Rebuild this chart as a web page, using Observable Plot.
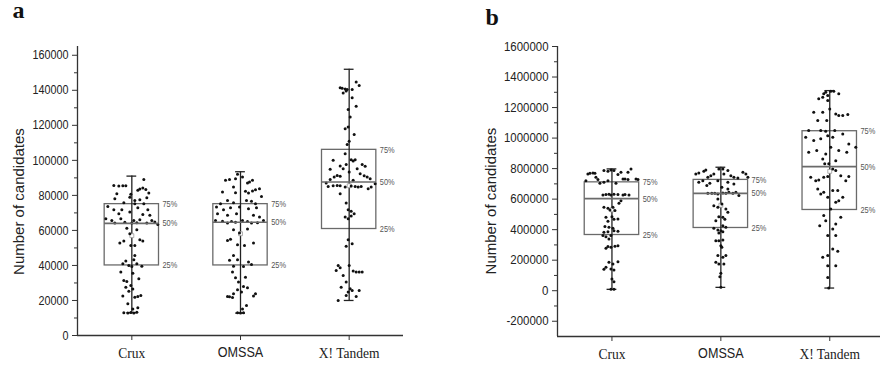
<!DOCTYPE html>
<html><head><meta charset="utf-8">
<script src="https://cdn.jsdelivr.net/npm/d3@7"></script>
<script src="https://cdn.jsdelivr.net/npm/@observablehq/plot@0.6"></script>
<style>
body{margin:0;background:#fff;}
#wrap{position:relative;width:880px;height:368px;overflow:hidden;background:#fff;}
#pa,#pb{position:absolute;top:0;}
#pa{left:0;} #pb{left:440px;}
</style></head><body><div id="wrap"><div id="pa"></div><div id="pb"></div></div>
<script>
const cats = ["Crux", "OMSSA", "X! Tandem"];

// ---- panel a : summary statistics ----
const aTicks = [0,20000,40000,60000,80000,100000,120000,140000,160000];
const aMinor = [10000,30000,50000,70000,90000,110000,130000,150000];
const aQ1 = [40000, 40000, 60800];
const aMedian = [64000, 64700, 87600];
const aQ3 = [75000, 75000, 106000];
const aMin = [13000, 12800, 20000];
const aMax = [91000, 93500, 152000];
const aMean = [57000, 58100, 85500];

// ---- panel a : individual values (y) and horizontal jitter ----
const aCruxY = [85700,85300,85500,85500,89100,82900,83600,84200,83400,81300,
  81000,79000,80600,78100,77100,77500,78700,75800,75200,75200,
  73700,71800,71800,73000,71800,69500,70500,69100,68600,66700,
  65700,66700,65700,66100,65700,64800,64200,64600,64200,64400,
  64200,63400,61300,60400,58100,52800,53900,54700,53900,51400,
  51400,42500,43200,41000,41000,40000,39400,39600,45700,36200,
  35600,32400,31400,30900,28600,27600,26500,25300,22500,21900,
  22300,22900,18100,15800,15200,13000,12800,13100,12800,13300];
const aCruxJ = [-18,-13,-9,-6,12,6,8,11,14,17,
  -15,-2,-1,-17,3,8,15,-8,3,12,
  -24,-18,-10,6,16,-13,-2,11,18,-26,
  -20,-11,2,8,20,23,-17,-7,0,5,
  15,26,-5,5,-2,-12,-8,8,11,-1,
  3,-6,2,5,-9,-3,0,10,3,-11,
  1,7,-8,-5,-1,-6,1,-3,-9,3,
  6,9,-4,6,1,-8,-4,-1,2,5];
const aOmssaY = [88600,89100,89500,92000,90500,87000,87600,88600,84800,81900,
  82300,81300,82500,83200,83800,79400,81500,75200,77100,75800,
  77100,76600,75200,73300,71800,73000,73300,72400,73000,69500,
  68600,69500,68600,67600,65700,65300,65100,65700,65100,65700,
  64200,64600,64200,64400,60400,60800,58500,54300,55000,52800,
  51800,51400,45700,42900,43200,41900,40600,39400,39600,36200,
  33000,33300,30500,28000,27200,26100,24800,23800,23800,22500,
  22300,22100,21700,17100,15200,13000,12800,13000];
const aOmssaJ = [-15,-11,-5,-3,2,7,9,12,-7,-18,
  5,8,12,15,19,21,-5,-20,-13,-7,
  6,11,15,-24,-17,-10,-1,8,16,-23,
  -13,-4,13,19,-25,-18,-9,2,7,23,
  -13,-5,11,17,-7,7,-1,-13,-10,13,
  -3,4,-7,-11,-3,8,11,3,-7,-8,
  -5,5,-2,3,7,-3,1,-7,15,13,
  -13,-11,-8,6,2,-3,0,3];
const aTandemY = [141500,141100,140800,140400,140400,144800,142700,138500,139600,135800,
  130900,129000,124800,118100,119000,114700,110900,109000,103800,100000,
  100400,99600,100400,97700,96800,97700,96600,94900,95200,95200,
  93300,91400,90500,90900,92400,91200,90500,89500,89100,87000,
  88600,86700,85100,85500,85700,85500,84800,85300,85100,84800,
  85100,83800,84800,81000,75600,71800,71000,69500,67600,66700,
  68200,54700,52400,50900,40000,38700,37100,40000,34300,36800,
  36200,36200,36200,30500,27600,26700,25700,25700,24800,22900,
  22300,20000];
const aTandemJ = [-9,-7,-4,-2,3,7,10,-6,-3,3,
  7,-1,1,-4,-1,5,0,-2,-4,-16,
  2,4,6,-3,-9,13,16,-19,-6,8,
  0,-12,-15,-9,11,15,18,21,-19,-23,
  4,26,-21,-16,-12,-9,-4,2,6,9,
  12,19,22,-9,-3,-1,2,5,-4,-1,
  2,-1,3,-3,-11,-9,-13,0,-6,4,
  7,10,13,-3,-8,1,3,10,-1,-3,
  7,-11];

// ---- panel b : summary statistics ----
const bTicks = [-200000,0,200000,400000,600000,800000,1000000,1200000,1400000,1600000];
const bMinor = [-100000,100000,300000,500000,700000,900000,1100000,1300000,1500000];
const bQ1 = [365000, 411000, 529000];
const bMedian = [603000, 638000, 813000];
const bQ3 = [710000, 726000, 1045000];
const bMin = [9000, 22000, 17500];
const bMax = [798000, 809000, 1311000];
const bMean = [530000, 560000, 782000];

// ---- panel b : individual values (y) and horizontal jitter ----
const bCruxY = [765000,769000,772000,769000,721000,743000,728000,704000,787000,783000,
  791000,787000,761000,776000,798000,776000,732000,732000,728000,732000,
  728000,721000,704000,710000,627000,630000,632000,627000,632000,630000,
  627000,630000,627000,590000,573000,546000,540000,529000,546000,525000,
  481000,485000,468000,470000,455000,420000,415000,409000,383000,387000,
  393000,389000,361000,354000,361000,339000,289000,284000,291000,295000,
  278000,186000,175000,190000,153000,140000,142000,136000,77000,59000,
  9000,9000];
const bCruxJ = [-24,-22,-19,-17,-26,-16,-14,-12,-8,-4,
  -1,2,6,9,19,16,11,13,16,24,
  26,-4,4,-8,-9,-6,-3,-1,2,6,
  11,13,17,9,7,-8,-4,-2,1,3,
  -6,0,2,6,-4,-7,-3,1,-8,-4,
  2,6,-9,-6,-1,-3,-4,-1,3,6,
  -6,-3,1,6,-6,-8,-1,2,0,2,
  -1,2];
const bOmssaY = [765000,772000,783000,791000,743000,754000,765000,798000,798000,787000,
  765000,754000,743000,739000,776000,765000,743000,710000,721000,689000,
  704000,721000,710000,699000,638000,638000,638000,634000,640000,638000,
  645000,638000,645000,623000,678000,667000,601000,568000,557000,546000,
  536000,514000,485000,481000,468000,459000,426000,415000,409000,398000,
  393000,378000,387000,328000,328000,332000,295000,284000,230000,219000,
  230000,186000,175000,175000,114000,92000,22000];
const bOmssaJ = [-25,-22,-17,-15,-13,-10,-7,-2,2,7,
  3,10,13,17,22,25,27,-22,-18,-14,
  -11,-3,7,13,-13,-9,-6,-3,2,5,
  8,12,15,18,1,7,-3,1,-7,-3,
  5,7,-2,2,4,-5,2,5,-7,-3,
  0,-2,2,-5,-2,2,0,1,-3,2,
  5,-5,-2,3,0,-1,0];
const bTandemY = [1290000,1301000,1307000,1307000,1290000,1257000,1268000,1279000,1246000,1191000,
  1169000,1169000,1158000,1148000,1148000,1154000,1115000,1115000,1049000,1049000,
  1045000,1049000,1005000,984000,995000,1016000,1005000,1027000,962000,940000,
  907000,918000,896000,940000,918000,907000,863000,852000,831000,831000,
  798000,787000,743000,721000,726000,743000,748000,754000,721000,748000,
  634000,645000,656000,656000,612000,579000,590000,612000,667000,536000,
  492000,481000,459000,426000,404000,437000,361000,361000,273000,258000,
  219000,230000,164000,164000,87000,17000];
const bTandemJ = [-6,-4,1,4,9,-11,-7,-2,-2,0,
  -16,-7,6,9,13,18,-12,-3,-21,-9,
  -4,5,-24,-16,-9,-2,3,13,19,26,
  -21,-13,-4,1,9,17,-7,6,-5,-1,
  3,6,-19,-14,-11,-6,-2,11,16,19,
  -9,-6,3,8,-2,6,9,13,-12,1,
  -6,11,-4,-10,3,6,-2,6,3,8,
  -7,-2,-2,6,-2,-1];

const YLABEL = "Number of candidates";
const JIT = 1 / 108.7; // jitter units -> fraction of category spacing
const BOX = 0.25, CAP = 0.045;

function panel(o) {
  const boxes = cats.map((name, i) => ({i, name, q1: o.q1[i], med: o.med[i], q3: o.q3[i], lo: o.lo[i], hi: o.hi[i], mean: o.mean[i]}));
  const pts = o.groups.flatMap((g, i) => g.y.map((v, k) => ({x: i + g.j[k] * JIT, y: v})));
  const pct = boxes.flatMap(b => [{i: b.i, y: b.q3, t: "75%"}, {i: b.i, y: b.med, t: "50%"}, {i: b.i, y: b.q1, t: "25%"}]);
  const serifLab = boxes.filter(b => b.name !== "OMSSA");
  const sansLab = boxes.filter(b => b.name === "OMSSA");
  return Plot.plot({
    width: 440, height: 368,
    marginLeft: o.ml, marginRight: o.mr, marginTop: 46, marginBottom: o.mb,
    x: {domain: [-0.5, o.xMax], axis: null, label: null},
    y: {domain: o.domain, axis: null, label: null},
    style: {background: "transparent", fontFamily: "'Liberation Sans', Arial, sans-serif", color: "#222"},
    marks: [
      Plot.rect(boxes, {x1: d => d.i - BOX, x2: d => d.i + BOX, y1: "q1", y2: "q3", fill: "none", stroke: "#6a6a6a", strokeWidth: 1.3}),
      Plot.ruleX(boxes, {x: "i", y1: "lo", y2: "hi", stroke: "#222", strokeWidth: 1.3}),
      Plot.ruleY(boxes, {y: "hi", x1: d => d.i - CAP, x2: d => d.i + CAP, stroke: "#222", strokeWidth: 1.3}),
      Plot.ruleY(boxes, {y: "lo", x1: d => d.i - CAP, x2: d => d.i + CAP, stroke: "#222", strokeWidth: 1.3}),
      Plot.dot(boxes, {x: "i", y: "mean", symbol: "square", r: 2.2, stroke: "#999", fill: "white", strokeWidth: 0.8}),
      Plot.dot(pts, {x: "x", y: "y", r: 1.5, fill: "#111", stroke: "none"}),
      Plot.ruleY(boxes, {y: "med", x1: d => d.i - BOX, x2: d => d.i + BOX, stroke: "#6a6a6a", strokeWidth: 1.6}),
      Plot.text(pct, {x: d => d.i + BOX, y: "y", text: "t", dx: 3.5, textAnchor: "start", fontSize: 9, fill: "#555"}),
      Plot.ruleX([-0.5], {stroke: "#333", strokeWidth: 1.3}),
      Plot.ruleY([o.domain[0]], {stroke: "#333", strokeWidth: 1.3}),
      Plot.axisY(o.ticks, {anchor: "left", tickSize: 5, tickPadding: 4, tickFormat: d => String(d), fontSize: 13, label: null, stroke: "#333"}),
      Plot.axisY(o.minor, {anchor: "left", tickSize: 3, tickFormat: () => "", label: null, stroke: "#333"}),
      Plot.axisX([0, 1, 2], {anchor: "bottom", tickSize: 5, tickFormat: () => "", label: null, stroke: "#333"}),
      Plot.text(serifLab, {x: "i", frameAnchor: "bottom", text: "name", dy: 12, lineAnchor: "top", fontSize: 15, fontFamily: "'Liberation Serif', 'Times New Roman', serif", fill: "#222"}),
      Plot.text(sansLab, {x: "i", frameAnchor: "bottom", text: "name", dy: 12, lineAnchor: "top", fontSize: 14, fontFamily: "'Liberation Sans', Arial, sans-serif", fill: "#222"}),
      Plot.text([YLABEL], {frameAnchor: "left", rotate: -90, fontSize: 15, fill: "#222"}),
      Plot.text([o.letter], {frameAnchor: "top-left", dx: o.letDx, dy: o.letDy, textAnchor: "start", lineAnchor: "bottom", fontSize: 24, fontWeight: "bold", fontFamily: "'Liberation Serif', 'Times New Roman', serif", fill: "#111"})
    ]
  });
}

function squeeze(svg, ratioNum) {
  svg.querySelectorAll("text").forEach(t => {
    const s = t.textContent;
    let r = null;
    if (/^-?\d+$/.test(s)) r = ratioNum;
    else if (/%$/.test(s)) r = 0.82;
    else if (cats.includes(s)) r = 0.9;
    if (r) {
      const w = t.getComputedTextLength();
      if (w > 0) { t.setAttribute("textLength", (w * r).toFixed(1)); t.setAttribute("lengthAdjust", "spacingAndGlyphs"); }
    }
  });
}

// centre the rotated axis title at a given point of the panel
function placeTitle(svg, cx, cy) {
  const t = [...svg.querySelectorAll("text")].find(e => e.textContent === YLABEL);
  if (!t) return;
  const g = t.parentNode;
  const sb = svg.getBoundingClientRect();
  const b = t.getBoundingClientRect();
  const dx = cx - (b.left - sb.left + b.width / 2);
  const dy = cy - (b.top - sb.top + b.height / 2);
  const prev = g.getAttribute("transform") || "";
  g.setAttribute("transform", `translate(${dx.toFixed(1)},${dy.toFixed(1)}) ${prev}`);
}

const pa = panel({
  letter: "a", ticks: aTicks, minor: aMinor, domain: [0, 165000],
  q1: aQ1, med: aMedian, q3: aQ3, lo: aMin, hi: aMax, mean: aMean,
  groups: [{y: aCruxY, j: aCruxJ}, {y: aOmssaY, j: aOmssaJ}, {y: aTandemY, j: aTandemJ}],
  ml: 77, mr: 37, mb: 33, xMax: 2.5, letDx: -65, letDy: -29
});
const pb = panel({
  letter: "b", ticks: bTicks, minor: bMinor, domain: [-300000, 1600000],
  q1: bQ1, med: bMedian, q3: bQ3, lo: bMin, hi: bMax, mean: bMean,
  groups: [{y: bCruxY, j: bCruxJ}, {y: bOmssaY, j: bOmssaJ}, {y: bTandemY, j: bTandemJ}],
  ml: 117, mr: 0, mb: 32, xMax: 2.466, letDx: -72, letDy: -22
});
document.getElementById("pa").appendChild(pa);
document.getElementById("pb").appendChild(pb);
squeeze(pa, 0.83);
squeeze(pb, 0.88);
placeTitle(pa, 18, 201.5);
placeTitle(pb, 50, 201);
</script></body></html>
